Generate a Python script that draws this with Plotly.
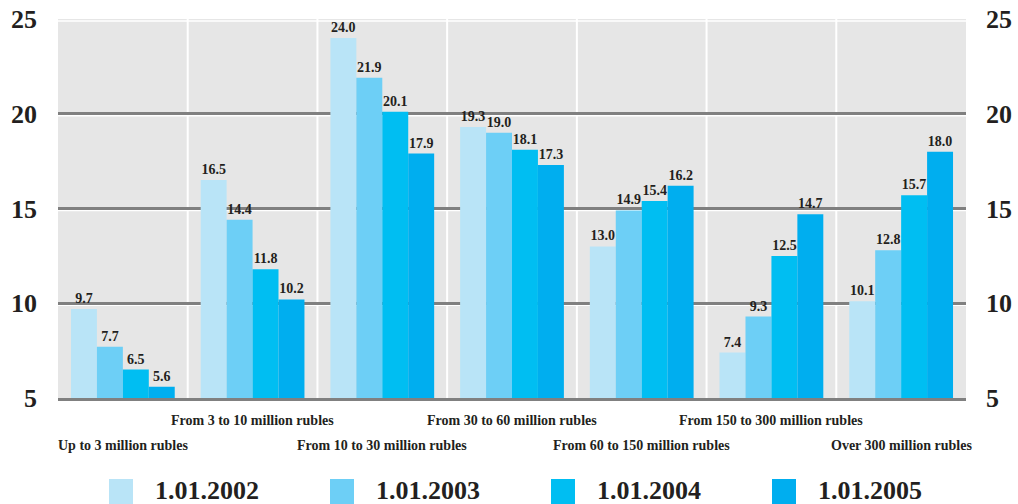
import plotly.graph_objects as go

categories = ["Up to 3 million rubles", "From 3 to 10 million rubles", "From 10 to 30 million rubles",
              "From 30 to 60 million rubles", "From 60 to 150 million rubles",
              "From 150 to 300 million rubles", "Over 300 million rubles"]
series_names = ["1.01.2002", "1.01.2003", "1.01.2004", "1.01.2005"]
v2002 = [9.7, 16.5, 24.0, 19.3, 13.0, 7.4, 10.1]
v2003 = [7.7, 14.4, 21.9, 19.0, 14.9, 9.3, 12.8]
v2004 = [6.5, 11.8, 20.1, 18.1, 15.4, 12.5, 15.7]
v2005 = [5.6, 10.2, 17.9, 17.3, 16.2, 14.7, 18.0]
series_values = [v2002, v2003, v2004, v2005]
colors = ["#b9e4f7", "#6dcff6", "#00bef2", "#00aeef"]
y_ticks = [5, 10, 15, 20, 25]

FONT = "Liberation Serif"
TXT = "#231f20"

fig = go.Figure()
xs = list(range(len(categories)))
for name, vals, col in zip(series_names, series_values, colors):
    fig.add_trace(go.Bar(
        x=xs, y=vals, name=name, marker=dict(color=col, line=dict(width=0)),
        texttemplate="%{y:.1f}", textposition="outside", cliponaxis=False,
        textfont=dict(family=FONT, size=14, color=TXT, weight=700),
        showlegend=False, hoverinfo="skip"))

# invisible trace to activate right axis
fig.add_trace(go.Scatter(x=[0], y=[5], yaxis="y2", mode="markers",
                         marker=dict(opacity=0), showlegend=False, hoverinfo="skip"))

L, R, T, B = 58, 52, 19, 106
W = 1018 - L - R
H = 504 - T - B

shapes = []
# vertical white separators between categories
for i in range(len(categories) - 1):
    shapes.append(dict(type="line", xref="x", yref="paper", x0=i + 0.5, x1=i + 0.5, y0=0, y1=1,
                       line=dict(color="white", width=2), layer="below"))
# white highlight under each gridline
for v in y_ticks[1:]:
    shapes.append(dict(type="line", xref="paper", yref="y", x0=0, x1=1,
                       ysizemode="pixel", yanchor=v, y0=-2, y1=-2,
                       line=dict(color="white", width=1.5), layer="below"))

annotations = []
for i, c in enumerate(categories):
    annotations.append(dict(x=i, xref="x", y=0, yref="paper", yanchor="middle",
                            yshift=-(22 if i % 2 else 47), text=c, showarrow=False,
                            font=dict(family=FONT, size=14, color=TXT, weight=700)))

# custom legend
for i, (name, col) in enumerate(zip(series_names, colors)):
    sx0 = 109 + 221 * i
    shapes.append(dict(type="rect", xref="paper", yref="paper",
                       x0=(sx0 - L) / W, x1=(sx0 + 24 - L) / W,
                       y0=(T + H - 479) / H, y1=(T + H - 506) / H,
                       fillcolor=col, line=dict(width=0)))
    annotations.append(dict(x=(sx0 + 44 - L) / W, xref="paper", xanchor="left",
                            y=(T + H - 490) / H, yref="paper", yanchor="middle",
                            text=name, showarrow=False,
                            font=dict(family=FONT, size=26, color=TXT, weight=700)))

tickfont = dict(family=FONT, size=26, color=TXT, weight=700)
fig.update_layout(
    width=1018, height=504,
    margin=dict(l=L, r=R, t=T, b=B, autoexpand=False),
    paper_bgcolor="white", plot_bgcolor="#e6e6e6",
    barmode="group", bargap=0.2, bargroupgap=0,
    xaxis=dict(range=[-0.5, len(categories) - 0.5], showticklabels=False, showgrid=False,
               zeroline=False, showline=True, linecolor="#808080", linewidth=3, ticks="",
               automargin=False),
    yaxis=dict(range=[5, 25], tickvals=y_ticks, showgrid=True, gridcolor="#808080", gridwidth=2.5,
               zeroline=False, tickfont=tickfont, ticks="", ticklabelstandoff=20, automargin=False),
    yaxis2=dict(range=[5, 25], tickvals=y_ticks, overlaying="y", side="right", showgrid=False,
                zeroline=False, tickfont=tickfont, ticks="", ticklabelstandoff=19, automargin=False),
    shapes=shapes, annotations=annotations,
)

fig.write_html("out.html", config={"displayModeBar": False},
               post_script="document.body.style.margin='0';document.body.style.overflow='hidden';")
